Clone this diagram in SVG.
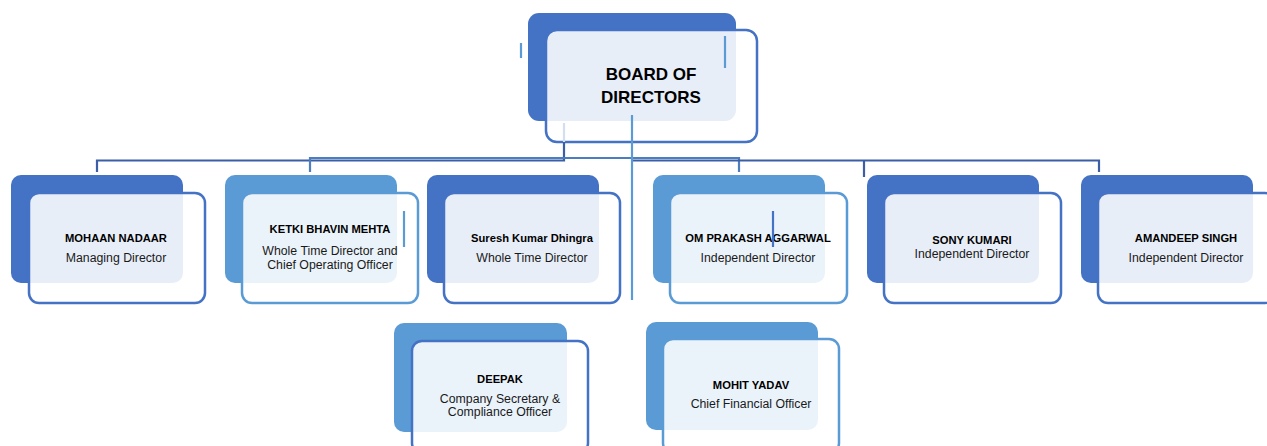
<svg xmlns="http://www.w3.org/2000/svg" width="1267" height="446" viewBox="0 0 1267 446">
  <style>
    .back-dark { fill: #4472C4; }
    .back-light { fill: #5B9BD5; }
    .front { fill: #FFFFFF; fill-opacity: 0.88; stroke-width: 2.5; }
    .edge-dark { stroke: #4472C4; }
    .edge-light { stroke: #5B9BD5; }
    .name { font-family: "Liberation Sans", Arial, sans-serif; font-weight: bold; font-size: 11.2px; fill: #000; text-anchor: middle; }
    .role { font-family: "Liberation Sans", Arial, sans-serif; font-size: 12.3px; fill: #1a1a1a; text-anchor: middle; }
    .title { font-family: "Liberation Sans", Arial, sans-serif; font-weight: bold; font-size: 17px; fill: #000; text-anchor: middle; }
    .wire { fill: none; stroke-width: 2.2; }
    .wire-dark { stroke: #3B5EA6; }
    .wire-mid { stroke: #4C7EBF; }
    .wire-light { stroke: #5B9BD5; }
    .tick { stroke-width: 2.2; }
  </style>

  <!-- Board -->
  <g id="board">
    <rect class="back-dark" x="528" y="13" width="208" height="108" rx="11"/>
    <rect class="front edge-dark" x="546" y="30" width="211" height="112" rx="11"/>
    <line class="tick edge-light" x1="521" y1="43" x2="521" y2="58"/>
    <line class="tick edge-light" x1="725" y1="36" x2="725" y2="68"/>
    <text class="title" x="651" y="80">BOARD OF</text>
    <text class="title" x="651" y="103">DIRECTORS</text>
  </g>

  <!-- Directors row -->
  <g id="mohaan-nadaar">
    <rect class="back-dark" x="11" y="175" width="172" height="108" rx="10"/>
    <rect class="front edge-dark" x="29" y="193" width="176" height="110" rx="10"/>
    <text class="name" x="116" y="242">MOHAAN NADAAR</text>
    <text class="role" x="116" y="262">Managing Director</text>
  </g>

  <g id="ketki-bhavin-mehta">
    <rect class="back-light" x="225" y="175" width="172" height="108" rx="10"/>
    <rect class="front edge-light" x="242" y="193" width="176" height="110" rx="10"/>
    <line class="tick edge-light" x1="404" y1="211" x2="404" y2="247"/>
    <text class="name" x="330" y="233">KETKI BHAVIN MEHTA</text>
    <text class="role" x="330" y="255">Whole Time Director and</text>
    <text class="role" x="330" y="269">Chief Operating Officer</text>
  </g>

  <g id="suresh-kumar-dhingra">
    <rect class="back-dark" x="427" y="175" width="172" height="108" rx="10"/>
    <rect class="front edge-dark" x="444" y="193" width="176" height="110" rx="10"/>
    <text class="name" x="532" y="242">Suresh Kumar Dhingra</text>
    <text class="role" x="532" y="262">Whole Time Director</text>
  </g>

  <g id="om-prakash-aggarwal">
    <rect class="back-light" x="653" y="175" width="172" height="108" rx="10"/>
    <rect class="front edge-light" x="670" y="193" width="177" height="110" rx="10"/>
    <text class="name" x="758" y="242">OM PRAKASH AGGARWAL</text>
    <line class="tick edge-dark" x1="773" y1="211" x2="773" y2="247"/>
    <text class="role" x="758" y="262">Independent Director</text>
  </g>

  <g id="sony-kumari">
    <rect class="back-dark" x="867" y="175" width="172" height="108" rx="10"/>
    <rect class="front edge-dark" x="884" y="193" width="177" height="110" rx="10"/>
    <text class="name" x="972" y="244">SONY KUMARI</text>
    <text class="role" x="972" y="258">Independent Director</text>
  </g>

  <g id="amandeep-singh">
    <rect class="back-dark" x="1081" y="175" width="172" height="108" rx="10"/>
    <rect class="front edge-dark" x="1098" y="193" width="177" height="110" rx="10"/>
    <text class="name" x="1186" y="242">AMANDEEP SINGH</text>
    <text class="role" x="1186" y="262">Independent Director</text>
  </g>

  <!-- Officers row -->
  <g id="deepak">
    <rect class="back-light" x="394" y="323" width="173" height="109" rx="10"/>
    <rect class="front edge-dark" x="412" y="341" width="176" height="112" rx="10"/>
    <text class="name" x="500" y="383">DEEPAK</text>
    <text class="role" x="500" y="403">Company Secretary &amp;</text>
    <text class="role" x="500" y="416">Compliance Officer</text>
  </g>

  <g id="mohit-yadav">
    <rect class="back-light" x="646" y="322" width="172" height="108" rx="10"/>
    <rect class="front edge-light" x="663" y="339" width="176" height="114" rx="10"/>
    <text class="name" x="751" y="389">MOHIT YADAV</text>
    <text class="role" x="751" y="408">Chief Financial Officer</text>
  </g>

  <!-- Connectors -->
  <g id="connectors">
    <line class="wire" stroke="#D5DEEF" x1="564" y1="123" x2="564" y2="142"/>
    <path class="wire wire-dark" d="M564,142 V160.5 H97 V172"/>
    <path class="wire wire-mid" d="M632,158 H310 V172"/>
    <path class="wire wire-mid" d="M632,158 H739 V172"/>
    <path class="wire wire-dark" d="M632,160.5 H1099 V172"/>
    <path class="wire wire-dark" d="M864,160.5 V177"/>
    <line class="wire wire-light" x1="632" y1="115" x2="632" y2="300"/>
  </g>
</svg>
